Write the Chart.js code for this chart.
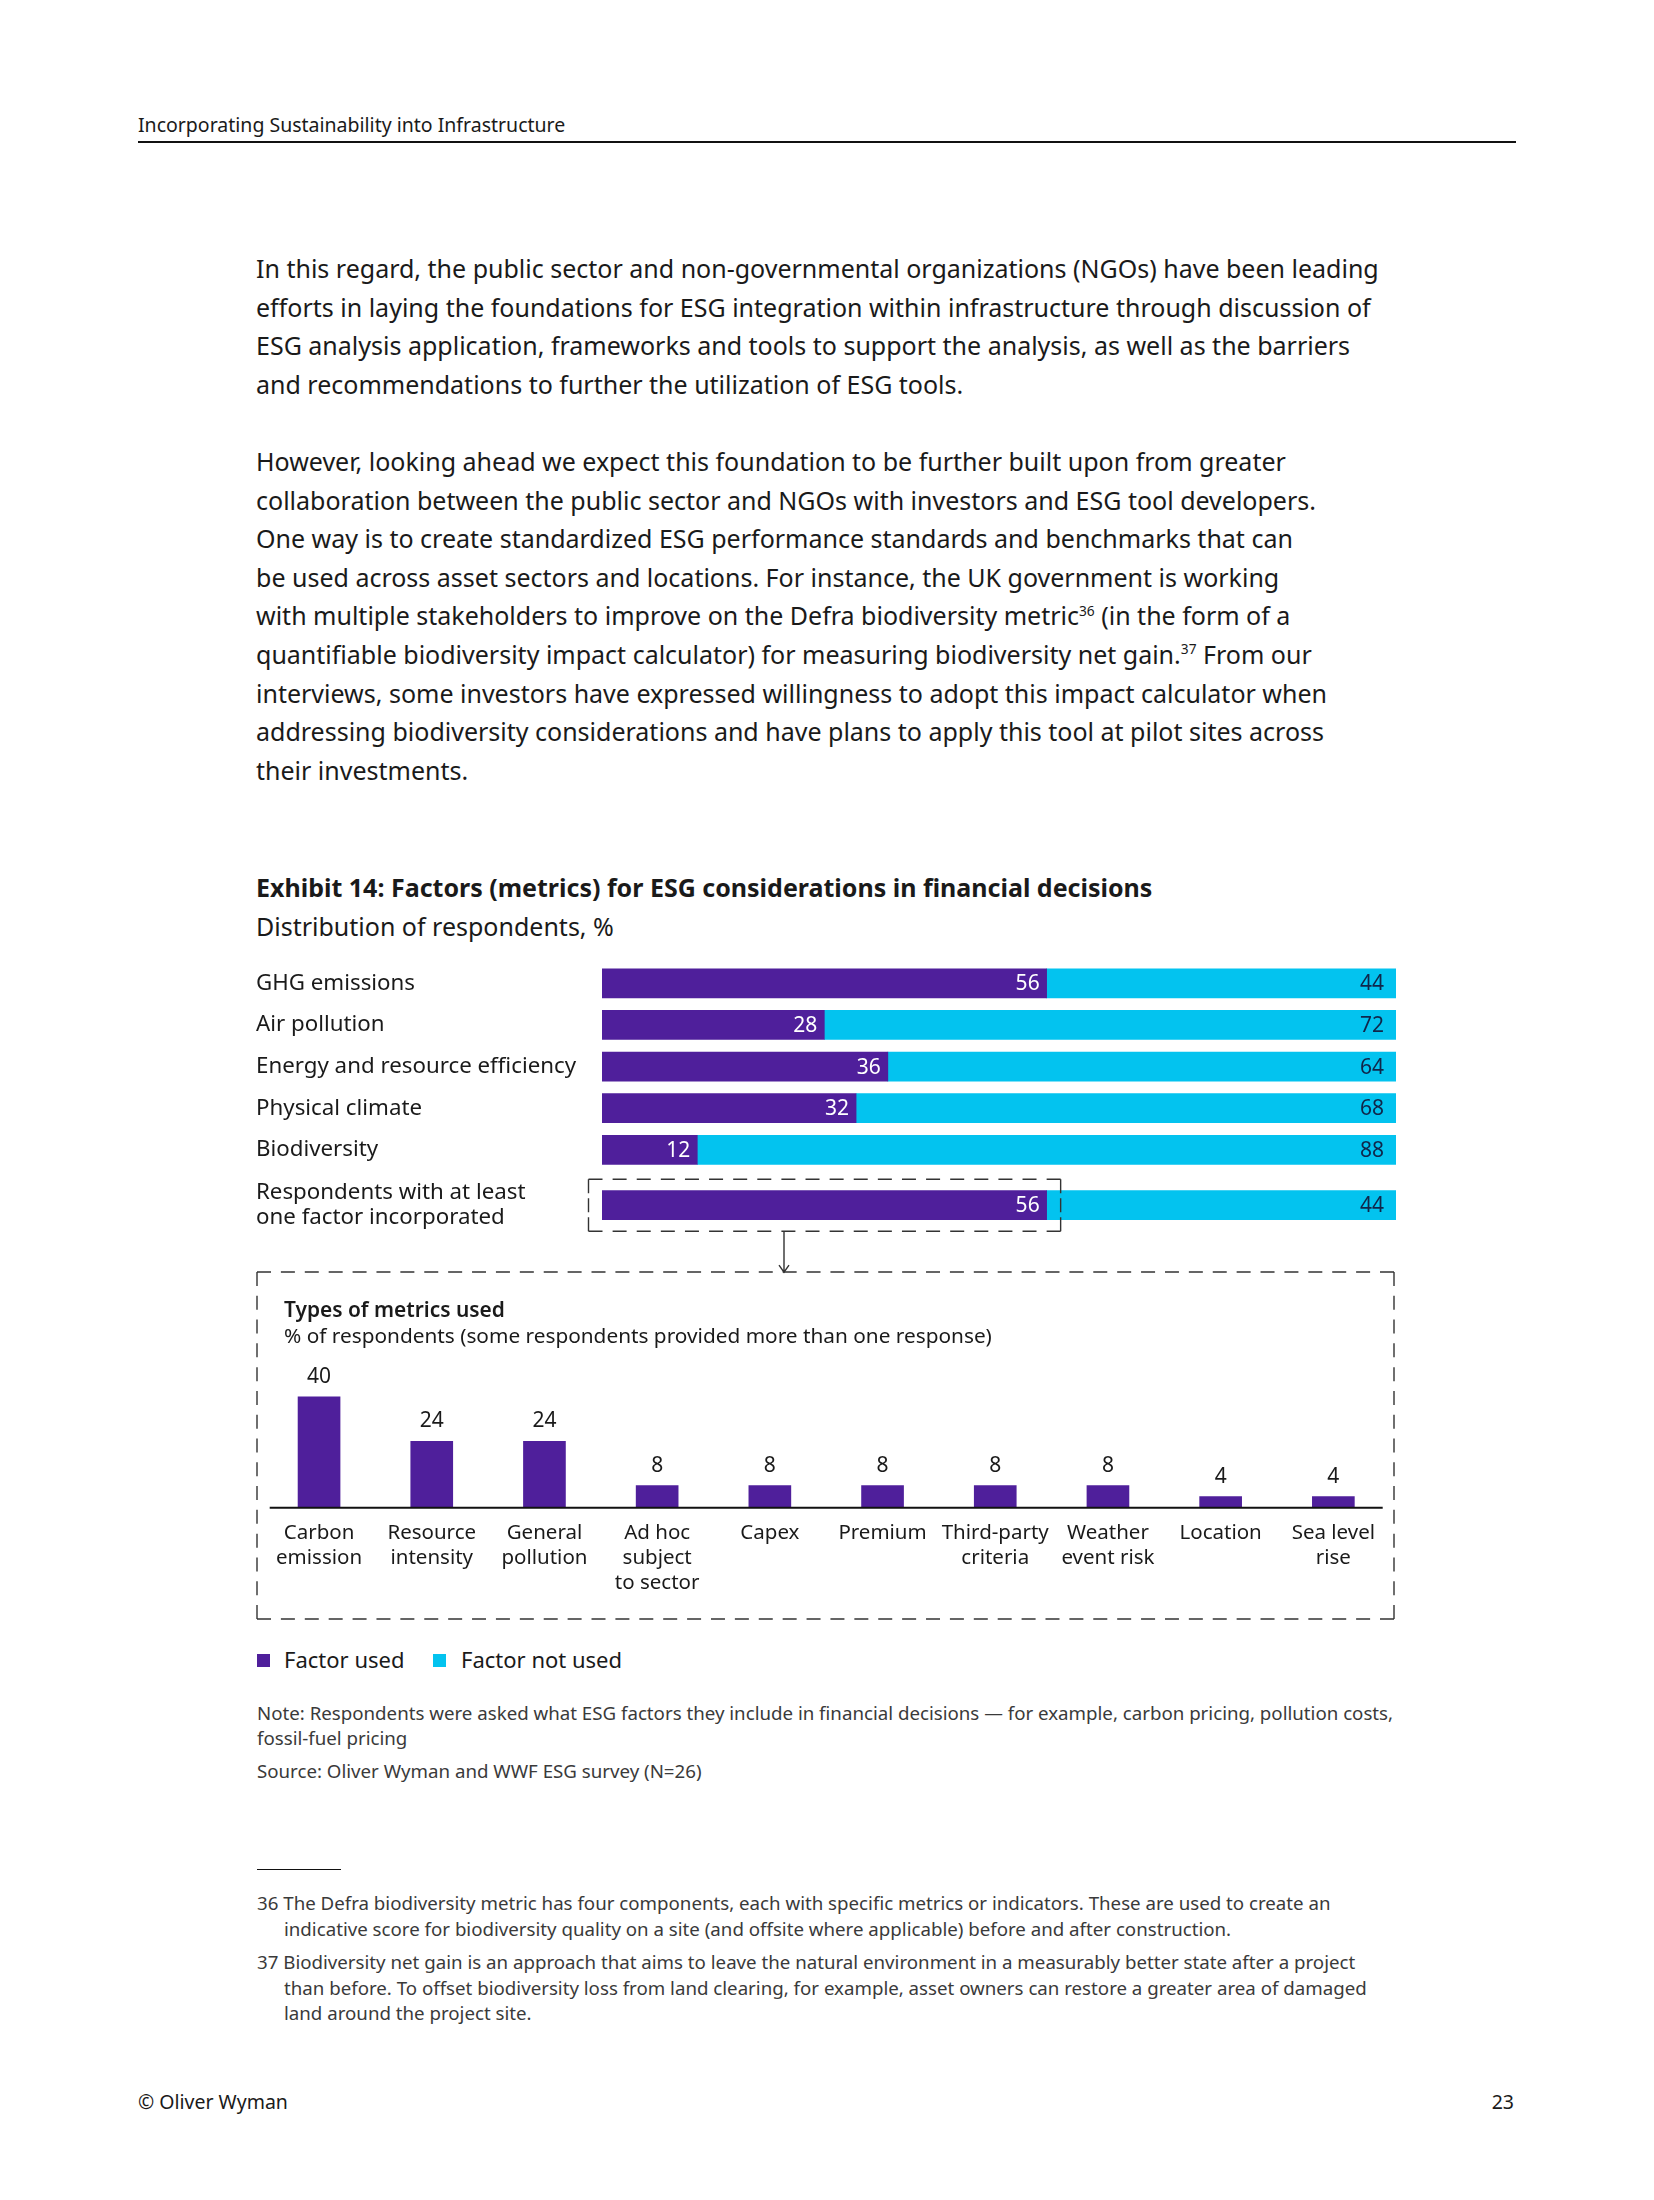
<!DOCTYPE html>
<html>
<head>
<meta charset="utf-8">
<title>Exhibit 14: Factors (metrics) for ESG considerations in financial decisions</title>
<script src="https://cdn.jsdelivr.net/npm/chart.js"></script>
<style>
  body { margin: 0; background: #fff; font-family: "Noto Sans", sans-serif; color: #1a1a1a; }
  #page { position: relative; width: 1654px; height: 2200px; overflow: hidden; }
  .abs { position: absolute; white-space: nowrap; }
  .para { left: 256px; font-size: 25px; line-height: 38.6px; }
  sup { font-size: 55%; line-height: 0; vertical-align: baseline; position: relative; top: -0.7em; }
  .note { left: 257px; font-size: 18.7px; line-height: 25px; color: #3a3a3a; }
  .fn { left: 257px; font-size: 18.7px; line-height: 25.5px; color: #3a3a3a; padding-left: 27px; text-indent: -27px; }
  .sq { position: absolute; width: 13px; height: 13px; }
  canvas { position: absolute; }
</style>
</head>
<body>
<div id="page">
  <div class="abs" style="left:138px; top:112px; font-size:19.5px; line-height:26px;">Incorporating Sustainability into Infrastructure</div>
  <div class="abs" style="left:138px; top:141px; width:1378px; height:1.5px; background:#111;"></div>

  <div class="abs para" style="top:249px;">
    In this regard, the public sector and non-governmental organizations (NGOs) have been leading<br>
    efforts in laying the foundations for ESG integration within infrastructure through discussion of<br>
    ESG analysis application, frameworks and tools to support the analysis, as well as the barriers<br>
    and recommendations to further the utilization of ESG tools.
  </div>
  <div class="abs para" style="top:442px;">
    However, looking ahead we expect this foundation to be further built upon from greater<br>
    collaboration between the public sector and NGOs with investors and ESG tool developers.<br>
    One way is to create standardized ESG performance standards and benchmarks that can<br>
    be used across asset sectors and locations. For instance, the UK government is working<br>
    with multiple stakeholders to improve on the Defra biodiversity metric<sup>36</sup> (in the form of a<br>
    quantifiable biodiversity impact calculator) for measuring biodiversity net gain.<sup>37</sup> From our<br>
    interviews, some investors have expressed willingness to adopt this impact calculator when<br>
    addressing biodiversity considerations and have plans to apply this tool at pilot sites across<br>
    their investments.
  </div>

  <div class="abs" style="left:256px; top:872px; font-size:25px; line-height:30px; font-weight:700;">Exhibit 14: Factors (metrics) for ESG considerations in financial decisions</div>
  <div class="abs" style="left:256px; top:911px; font-size:25px; line-height:30px;">Distribution of respondents, %</div>

  <canvas id="factors" width="1140" height="320" style="left:256px; top:955px;"></canvas>

  <canvas id="metrics" width="1140" height="360" style="left:256px; top:1265px;"></canvas>
  <div class="abs" style="left:284px; top:1295px; font-size:20.9px; line-height:28px; font-weight:600;">Types of metrics used</div>
  <div class="abs" style="left:284px; top:1321px; font-size:20.8px; line-height:28px;">% of respondents (some respondents provided more than one response)</div>

  <div class="sq" style="left:257px; top:1654px; background:#4f1f9b;"></div>
  <div class="abs" style="left:284px; top:1644px; font-size:22px; line-height:30px;">Factor used</div>
  <div class="sq" style="left:433px; top:1654px; background:#03c3ef;"></div>
  <div class="abs" style="left:461px; top:1644px; font-size:22px; line-height:30px;">Factor not used</div>

  <div class="abs note" style="top:1700px;">Note: Respondents were asked what ESG factors they include in financial decisions — for example, carbon pricing, pollution costs,<br>fossil-fuel pricing</div>
  <div class="abs note" style="top:1758px;">Source: Oliver Wyman and WWF ESG survey (N=26)</div>

  <div class="abs" style="left:257px; top:1869px; width:84px; height:1px; background:#111;"></div>
  <div class="abs fn" style="top:1890px;">36 The Defra biodiversity metric has four components, each with specific metrics or indicators. These are used to create an<br>indicative score for biodiversity quality on a site (and offsite where applicable) before and after construction.</div>
  <div class="abs fn" style="top:1949px;">37 Biodiversity net gain is an approach that aims to leave the natural environment in a measurably better state after a project<br>than before. To offset biodiversity loss from land clearing, for example, asset owners can restore a greater area of damaged<br>land around the project site.</div>

  <div class="abs" style="left:138px; top:2089px; font-size:19.5px; line-height:26px;">© Oliver Wyman</div>
  <div class="abs" style="left:1414px; width:100px; text-align:right; top:2089px; font-size:19.5px; line-height:26px;">23</div>
</div>

<script>
// Exhibit 14 – top panel
var rowLabels = ['GHG emissions', 'Air pollution', 'Energy and resource efficiency', 'Physical climate', 'Biodiversity',
                 ['Respondents with at least', 'one factor incorporated']];
var factorUsed = [56, 28, 36, 32, 12, 56];
var factorNotUsed = [44, 72, 64, 68, 88, 44];

// bottom panel: types of metrics used
var metricLabels = [['Carbon', 'emission'], ['Resource', 'intensity'], ['General', 'pollution'], ['Ad hoc', 'subject', 'to sector'],
                    'Capex', 'Premium', ['Third-party', 'criteria'], ['Weather', 'event risk'], 'Location', ['Sea level', 'rise']];
var metricShare = [40, 24, 24, 8, 8, 8, 8, 8, 4, 4];

// row positions on the y axis (last row sits a bit further down)
var rowSlot = [0, 1, 2, 3, 4, 5.33];

var PURPLE = '#4f1f9b';
var CYAN = '#03c3ef';

Chart.defaults.font.family = '"Noto Sans", sans-serif';
Chart.defaults.color = '#1a1a1a';

function dashedLine(ctx, x1, y1, x2, y2, dash) {
    // dashes begin and end on the corners
    var len = Math.hypot(x2 - x1, y2 - y1);
    var n = Math.max(2, Math.round((len + 10) / (dash + 10)));
    var gap = (len - n * dash) / (n - 1);
    ctx.setLineDash([dash, gap]);
    ctx.beginPath();
    ctx.moveTo(x1, y1);
    ctx.lineTo(x2, y2);
    ctx.stroke();
}

function dashedBox(ctx, l, t, r, b, dash) {
    dashedLine(ctx, l, t, r, t, dash);
    dashedLine(ctx, r, t, r, b, dash);
    dashedLine(ctx, l, b, r, b, dash);
    dashedLine(ctx, l, t, l, b, dash);
    ctx.setLineDash([]);
}

var stackLabels = {
    id: 'stackLabels',
    afterDatasetsDraw: function(chart) {
        var ctx = chart.ctx;
        ctx.save();
        ctx.font = '21px "Noto Sans"';
        ctx.textAlign = 'right';
        ctx.textBaseline = 'middle';
        chart.data.datasets.forEach(function(ds, di) {
            chart.getDatasetMeta(di).data.forEach(function(bar, i) {
                ctx.fillStyle = di === 0 ? '#ffffff' : '#10264a';
                ctx.fillText(ds.data[i].x, bar.x - (di === 0 ? 7 : 12), bar.y + 1);
            });
        });
        ctx.restore();
    }
};

var callout = {
    id: 'callout',
    afterDraw: function(chart) {
        var ctx = chart.ctx;
        var x = chart.scales.x, y = chart.scales.y;
        var cy = y.getPixelForValue(rowSlot[5]);
        var l = chart.chartArea.left - 13.5;
        var r = x.getPixelForValue(factorUsed[5]) + 14;
        var t = cy - 26, b = cy + 26;
        ctx.save();
        ctx.strokeStyle = '#333';
        ctx.lineWidth = 1.4;
        dashedBox(ctx, l, t, r, b, 14);
        // arrow down to the detail box
        var ax = chart.chartArea.left + 182;
        var tip = b + 41;
        ctx.beginPath();
        ctx.moveTo(ax, b);
        ctx.lineTo(ax, tip);
        ctx.moveTo(ax - 5, tip - 7);
        ctx.lineTo(ax, tip);
        ctx.lineTo(ax + 5, tip - 7);
        ctx.stroke();
        ctx.restore();
    }
};

new Chart(document.getElementById('factors'), {
    type: 'bar',
    data: {
        datasets: [{
            label: 'Factor used',
            data: factorUsed.map(function(v, i) { return {x: v, y: rowSlot[i]}; }),
            backgroundColor: PURPLE
        }, {
            label: 'Factor not used',
            data: factorNotUsed.map(function(v, i) { return {x: v, y: rowSlot[i]}; }),
            backgroundColor: CYAN
        }]
    },
    options: {
        indexAxis: 'y',
        responsive: false,
        animation: false,
        barThickness: 29,
        layout: {padding: {top: 7.5, bottom: 49, left: 0, right: 0}},
        scales: {
            x: {stacked: true, min: 0, max: 100, display: false},
            y: {
                type: 'linear', stacked: true, reverse: true, offset: false, min: -0.5, max: 5.83,
                grid: {display: false, drawTicks: false},
                border: {display: false},
                afterBuildTicks: function(s) { s.ticks = rowSlot.map(function(v) { return {value: v}; }); },
                afterFit: function(s) { s.width = 346; s.paddingTop = 0; s.paddingBottom = 0; },
                ticks: {
                    autoSkip: false, crossAlign: 'far',
                    font: {size: 22.3, lineHeight: 1.12},
                    callback: function(v, i) { return rowLabels[i]; }
                }
            }
        },
        plugins: {legend: {display: false}, tooltip: {enabled: false}}
    },
    plugins: [stackLabels, callout]
});

var columnLabels = {
    id: 'columnLabels',
    afterDatasetsDraw: function(chart) {
        var ctx = chart.ctx;
        ctx.save();
        ctx.font = '21px "Noto Sans"';
        ctx.fillStyle = '#1a1a1a';
        ctx.textAlign = 'center';
        ctx.textBaseline = 'middle';
        chart.getDatasetMeta(0).data.forEach(function(bar, i) {
            ctx.fillText(metricShare[i], bar.x, bar.y - 20);
        });
        ctx.restore();
    }
};

var detailFrame = {
    id: 'detailFrame',
    afterDraw: function(chart) {
        var ctx = chart.ctx;
        var a = chart.chartArea;
        ctx.save();
        ctx.strokeStyle = '#333';
        ctx.lineWidth = 1.4;
        dashedBox(ctx, 1, 7, chart.width - 2, chart.height - 6, 14);
        ctx.strokeStyle = '#111';
        ctx.lineWidth = 2;
        ctx.beginPath();
        ctx.moveTo(a.left + 7, a.bottom);
        ctx.lineTo(a.right - 7, a.bottom);
        ctx.stroke();
        ctx.restore();
    }
};

new Chart(document.getElementById('metrics'), {
    type: 'bar',
    data: {
        labels: metricLabels,
        datasets: [{data: metricShare, backgroundColor: PURPLE, barThickness: 42}]
    },
    options: {
        responsive: false,
        animation: false,
        layout: {padding: {top: 104.2, left: 6.7, right: 6.3, bottom: 0}},
        scales: {
            x: {
                grid: {display: false, drawTicks: false},
                border: {display: false},
                afterFit: function(s) { s.height = 117.3; },
                ticks: {autoSkip: false, maxRotation: 0, padding: 13, font: {size: 20.5, lineHeight: 1.22}}
            },
            y: {display: false, min: 0, max: 50}
        },
        plugins: {legend: {display: false}, tooltip: {enabled: false}}
    },
    plugins: [columnLabels, detailFrame]
});
</script>
</body>
</html>
